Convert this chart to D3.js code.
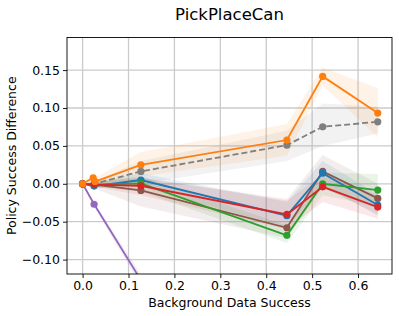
<!DOCTYPE html>
<html>
<head>
<meta charset="utf-8">
<script src="https://cdn.jsdelivr.net/npm/d3@7"></script>
<style>
  body { margin: 0; background: #fff; }
  text { font-family: "DejaVu Sans", sans-serif; fill: #000; }
</style>
</head>
<body>
<div id="chart"></div>
<script>
// x positions (background data success)
const xBase = [0, 0.025, 0.127, 0.445, 0.523, 0.643];
const xOrange = [0, 0.023, 0.027, 0.127, 0.445, 0.523, 0.643];
const xPurple = [0, 0.025, 0.127];

// series means and shaded bands
const blueMean = [0, -0.003, 0.005, -0.042, 0.014, -0.028];
const blueLo = [0, -0.006, -0.004, -0.058, -0.002, -0.042];
const blueHi = [0, 0.001, 0.014, -0.024, 0.03, -0.014];

const greenMean = [0, -0.001, 0.0005, -0.068, 0.0, -0.0083];
const greenLo = [0, -0.004, -0.01, -0.078, -0.015, -0.03];
const greenHi = [0, 0.002, 0.01, -0.055, 0.015, 0.013];

const redMean = [0, -0.001, -0.0026, -0.0404, -0.004, -0.0307];
const redLo = [0, -0.004, -0.015, -0.06, -0.024, -0.046];
const redHi = [0, 0.002, 0.008, -0.022, 0.012, -0.015];

const brownMean = [0, -0.001, -0.0088, -0.058, 0.0163, -0.0193];
const brownLo = [0, -0.006, -0.03, -0.072, -0.005, -0.04];
const brownHi = [0, 0.003, 0.008, -0.02, 0.038, 0.0];

const orangeMean = [0, 0.008, 0.003, 0.025, 0.0577, 0.1417, 0.0933];
const orangeLo = [0, 0.002, -0.002, 0.01, 0.037, 0.13, 0.061];
const orangeHi = [0, 0.013, 0.008, 0.042, 0.079, 0.1535, 0.126];

const grayMean = [0, 0.0, 0.0163, 0.051, 0.0752, 0.0818];
const grayLo = [0, -0.003, 0.0, 0.03, 0.05, 0.0665];
const grayHi = [0, 0.003, 0.03, 0.07, 0.106, 0.1015];

const purpleMean = [0, -0.027, -0.127];
const purpleLo = [0, -0.03, -0.135];
const purpleHi = [0, -0.024, -0.119];

const xTicks = [0, 0.1, 0.2, 0.3, 0.4, 0.5, 0.6];
const yTicks = [-0.10, -0.05, 0, 0.05, 0.10, 0.15];

const series = [
    { x: xBase, mean: grayMean, lo: grayLo, hi: grayHi, color: "#7f7f7f", dash: "6,3" },
    { x: xBase, mean: brownMean, lo: brownLo, hi: brownHi, color: "#8c564b" },
    { x: xPurple, mean: purpleMean, lo: purpleLo, hi: purpleHi, color: "#9467bd" },
    { x: xBase, mean: blueMean, lo: blueLo, hi: blueHi, color: "#1f77b4" },
    { x: xBase, mean: greenMean, lo: greenLo, hi: greenHi, color: "#2ca02c" },
    { x: xBase, mean: redMean, lo: redLo, hi: redHi, color: "#d62728" },
    { x: xOrange, mean: orangeMean, lo: orangeLo, hi: orangeHi, color: "#ff7f0e" }
];

const width = 399, height = 316;
const margin = { top: 37.5, right: 7, bottom: 42, left: 67 };
const innerW = width - margin.left - margin.right;
const innerH = height - margin.top - margin.bottom;

const svg = d3.select("#chart")
    .append("svg")
    .attr("width", width)
    .attr("height", height);

const x = d3.scaleLinear().domain([-0.034, 0.674]).range([0, innerW]);
const y = d3.scaleLinear().domain([-0.119, 0.193]).range([innerH, 0]);

const g = svg.append("g")
    .attr("transform", `translate(${margin.left},${margin.top})`);

g.append("clipPath").attr("id", "clip")
    .append("rect").attr("width", innerW).attr("height", innerH);

// grid
g.append("g")
    .selectAll("line")
    .data(xTicks)
    .enter()
    .append("line")
    .attr("x1", d => x(d)).attr("x2", d => x(d))
    .attr("y1", 0).attr("y2", innerH)
    .attr("stroke", "#cbcbcb").attr("stroke-width", 1.3);
g.append("g")
    .selectAll("line")
    .data(yTicks)
    .enter()
    .append("line")
    .attr("y1", d => y(d)).attr("y2", d => y(d))
    .attr("x1", 0).attr("x2", innerW)
    .attr("stroke", "#cbcbcb").attr("stroke-width", 1.3);

const plot = g.append("g").attr("clip-path", "url(#clip)");

const area = d3.area()
    .x(d => x(d.x))
    .y0(d => y(d.lo))
    .y1(d => y(d.hi));

const line = d3.line()
    .x(d => x(d.x))
    .y(d => y(d.m));

// bands first
series.forEach(s => {
    const pts = s.x.map((xv, i) => ({ x: xv, m: s.mean[i], lo: s.lo[i], hi: s.hi[i] }));
    plot.append("path")
        .datum(pts)
        .attr("d", area)
        .attr("fill", s.color)
        .attr("fill-opacity", 0.1);
});

// lines and markers
series.forEach(s => {
    const pts = s.x.map((xv, i) => ({ x: xv, m: s.mean[i] }));
    plot.append("path")
        .datum(pts)
        .attr("d", line)
        .attr("fill", "none")
        .attr("stroke", s.color)
        .attr("stroke-width", 1.8)
        .attr("stroke-dasharray", s.dash || null);
    plot.selectAll(null)
        .data(pts)
        .enter()
        .append("circle")
        .attr("cx", d => x(d.x))
        .attr("cy", d => y(d.m))
        .attr("r", 3.6)
        .attr("fill", s.color);
});

// axes
const xAxis = g.append("g")
    .attr("transform", `translate(0,${innerH})`)
    .call(d3.axisBottom(x).tickValues(xTicks).tickFormat(d3.format(".1f")).tickSizeOuter(0).tickSize(4));
const yAxis = g.append("g")
    .call(d3.axisLeft(y).tickValues(yTicks).tickFormat(d => d3.format(".2f")(d).replace("-", "\u2212")).tickSizeOuter(0).tickSize(4));

[xAxis, yAxis].forEach(a => {
    a.select(".domain").remove();
    a.selectAll("text").attr("font-size", 12.5).attr("font-family", "DejaVu Sans");
    a.selectAll("line").attr("stroke", "#000").attr("stroke-width", 0.9);
});

g.append("rect")
    .attr("width", innerW).attr("height", innerH)
    .attr("fill", "none").attr("stroke", "#000").attr("stroke-width", 0.9);

// labels
svg.append("text")
    .attr("x", margin.left + innerW / 2).attr("y", 20)
    .attr("text-anchor", "middle").attr("font-size", 16.5)
    .text("PickPlaceCan");
svg.append("text")
    .attr("x", margin.left + innerW / 2).attr("y", 307)
    .attr("text-anchor", "middle").attr("font-size", 12.5)
    .text("Background Data Success");
svg.append("text")
    .attr("transform", `translate(16,${margin.top + innerH / 2}) rotate(-90)`)
    .attr("text-anchor", "middle").attr("font-size", 12.5)
    .text("Policy Success Difference");
</script>
</body>
</html>
